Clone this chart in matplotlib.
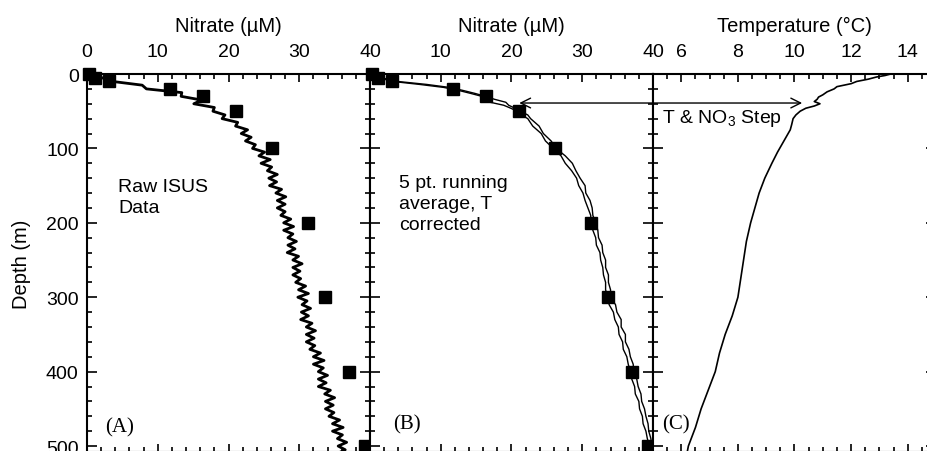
import numpy as np
import matplotlib
matplotlib.use('Agg')
import matplotlib.pyplot as plt
from matplotlib.ticker import MultipleLocator, FuncFormatter

plt.rcParams['font.family'] = ['Liberation Sans', 'DejaVu Sans']
plt.rcParams['mathtext.fontset'] = 'custom'
plt.rcParams['mathtext.rm'] = 'Liberation Sans'
plt.rcParams['mathtext.it'] = 'Liberation Sans'

# --- bottle samples (squares, panels A and B) ---
bottle_depth = [0, 5, 10, 20, 30, 50, 100, 200, 300, 400, 500]
bottle_no3 = [0.3, 1.2, 3.1, 11.8, 16.4, 21.0, 26.1, 31.3, 33.6, 37.0, 39.3]

# --- raw ISUS nitrate (panel A), 5 m bins from 0 to 510 m ---
raw_depth = np.arange(0, 515, 5)
raw_no3 = [0.3, 2.1, 3.6, 7.8, 8.4, 13.4, 13.3, 16.2, 15.1, 18.0,
           17.8, 19.5, 19.1, 21.3, 21.0, 22.7, 21.8, 23.2, 22.4, 23.8,
           23.4, 25.1, 24.3, 25.9, 24.6, 26.1, 25.5, 26.9, 25.7, 26.8,
           25.8, 27.5, 26.7, 28.1, 26.9, 28.0, 26.9, 28.0, 27.4, 28.8,
           27.8, 29.2, 27.8, 29.1, 28.4, 29.6, 28.4, 29.4, 28.3, 29.9,
           29.1, 30.4, 29.1, 30.1, 29.1, 30.2, 29.5, 30.9, 29.9, 31.3,
           29.8, 31.1, 30.4, 31.6, 30.3, 31.3, 30.2, 31.8, 31.0, 32.3,
           31.0, 32.1, 31.0, 32.2, 31.5, 33.0, 32.0, 33.5, 32.0, 33.4,
           32.7, 34.0, 32.7, 33.8, 32.7, 34.4, 33.6, 35.0, 33.7, 34.8,
           33.7, 34.9, 34.2, 35.7, 34.7, 36.2, 34.7, 36.1, 35.4, 36.7,
           35.5, 36.5, 35.4]

# --- 5 pt running average, T corrected (panel B), two casts ---
avg_depth = [0, 3, 6, 10, 14, 18, 22, 26, 30, 34, 38, 42, 46, 50, 55, 60,
             70, 80, 90, 100, 110, 120, 130, 140, 150, 160, 170, 180, 190, 200,
             210, 220, 230, 240, 250, 260, 270, 280, 290, 300, 310, 320, 330, 340,
             350, 360, 370, 380, 390, 400, 410, 420, 430, 440, 450, 460, 470, 480,
             490, 500, 510]
avg_no3_1 = [0.3, 0.8, 1.6, 3.2, 7.0, 10.4, 12.5, 14.2, 15.8, 16.6,
             17.0, 18.9, 19.9, 20.8, 21.4, 22.3, 23.0, 24.2, 24.8, 25.9,
             27.0, 27.6, 28.5, 29.2, 29.5, 30.1, 30.4, 30.8, 31.2, 31.2,
             31.5, 31.9, 32.0, 32.5, 32.6, 32.9, 33.0, 33.3, 33.3, 33.6,
             33.8, 34.4, 34.6, 35.1, 35.2, 35.7, 35.8, 36.3, 36.5, 36.8,
             37.0, 37.4, 37.5, 38.0, 38.1, 38.5, 38.6, 39.0, 39.2, 39.5, 39.6]
avg_no3_2 = [0.3, 1.1, 2.1, 3.9, 8.0, 11.2, 13.1, 14.8, 16.3, 17.6,
             19.2, 19.6, 20.5, 21.2, 22.3, 22.7, 23.9, 24.5, 25.6, 26.3,
             27.6, 28.6, 29.1, 29.7, 30.4, 30.5, 31.1, 31.4, 31.5, 31.9,
             32.2, 32.3, 32.8, 32.9, 33.3, 33.3, 33.7, 33.7, 34.0, 34.0,
             34.7, 34.9, 35.5, 35.5, 36.1, 36.1, 36.6, 36.8, 37.2, 37.3,
             37.7, 37.9, 38.3, 38.4, 38.8, 39.0, 39.3, 39.4, 39.7, 39.8, 40.0]

# --- temperature (panel C) ---
temp_depth = [0, 2, 4, 7, 10, 13, 17, 20, 24, 28, 31, 34, 37, 40, 43, 46, 50,
              55, 60, 68, 75, 85, 95, 105, 120, 140, 160, 180, 200, 225, 250,
              275, 300, 325, 350, 375, 400, 425, 450, 475, 500, 510]
temp_c = [13.4, 13.2, 12.9, 12.6, 12.2, 12.0, 11.5, 11.4, 11.15, 11.0, 10.85,
          10.8, 10.7, 10.9, 10.7, 10.4, 10.2, 10.05, 9.95, 9.9, 9.85, 9.7, 9.55,
          9.4, 9.2, 8.95, 8.75, 8.6, 8.45, 8.3, 8.2, 8.1, 8.0, 7.8, 7.55, 7.35,
          7.2, 6.95, 6.7, 6.5, 6.25, 6.2]

W, H = 928, 452
fig = plt.figure(figsize=(W / 100, H / 100), dpi=100)

def make_ax(x0, x1):
    # pixel box -> figure fraction; top at 75 px, bottom just off the image
    return fig.add_axes([x0 / W, (H - 453) / H, (x1 - x0) / W, (453 - 75) / H])

axA = make_ax(87, 370)
axB = make_ax(370, 653)
axC = make_ax(653, 936)

for ax in (axA, axB, axC):
    ax.set_ylim(508, 0)
    ax.yaxis.set_major_locator(MultipleLocator(100))
    ax.yaxis.set_minor_locator(MultipleLocator(20))
    ax.xaxis.tick_top()
    ax.xaxis.set_label_position('top')
    ax.tick_params(axis='both', which='both', direction='in', top=True, bottom=True,
                   left=True, right=True, labeltop=True, labelbottom=False,
                   labelleft=False, labelright=False, width=1.2, labelsize=14)
    ax.tick_params(axis='x', which='major', length=6, pad=10)
    ax.tick_params(axis='x', which='minor', length=3.5)
    ax.tick_params(axis='y', which='major', length=7)
    ax.tick_params(axis='y', which='minor', length=3.8)
    for s in ax.spines.values():
        s.set_linewidth(1.5)

for ax in (axA, axB):
    ax.set_xlim(0, 40)
    ax.xaxis.set_major_locator(MultipleLocator(10))
    ax.xaxis.set_minor_locator(MultipleLocator(2))
    ax.set_xlabel('Nitrate (µM)', fontsize=14.5, labelpad=9)
    ax.plot(bottle_no3, bottle_depth, 's', color='black', ms=8, zorder=4, clip_on=False)

axB.xaxis.set_major_formatter(FuncFormatter(lambda v, p: '' if v == 0 else f'{v:g}'))

axA.tick_params(axis='y', labelleft=True, pad=6)
axA.set_ylabel('Depth (m)', fontsize=14.5, labelpad=11)

axC.set_xlim(5, 15)
axC.xaxis.set_major_locator(MultipleLocator(2))
axC.xaxis.set_minor_locator(MultipleLocator(0.5))
axC.set_xlabel('Temperature (°C)', fontsize=14.5, labelpad=9)

# panel A: raw data
axA.plot(raw_no3, raw_depth, color='black', lw=2.0, zorder=3)
axA.text(4.4, 165, 'Raw ISUS\nData', fontsize=14, va='center', ha='left', linespacing=1.35)
axA.text(2.5, 474, '(A)', fontsize=15, family='Liberation Serif', va='center')

# panel B: running average, both casts
axB.plot(avg_no3_1, avg_depth, color='black', lw=1.0, zorder=3)
axB.plot(avg_no3_2, avg_depth, color='black', lw=1.0, zorder=3)
axB.text(4.1, 174, '5 pt. running\naverage, T\ncorrected', fontsize=14, va='center',
         ha='left', linespacing=1.3)
axB.text(3.25, 470, '(B)', fontsize=15, family='Liberation Serif', va='center')

# panel C: temperature
axC.plot(temp_c, temp_depth, color='black', lw=1.2, zorder=3)
axC.text(5.32, 470, '(C)', fontsize=15, family='Liberation Serif', va='center')
axC.text(5.32, 58, 'T & NO$_3$ Step', fontsize=14, va='center', ha='left')

# step arrow from B's nitrate profile to C's temperature profile
axC.annotate('', xy=(21.1, 39), xycoords=axB.transData,
             xytext=(10.27, 39), textcoords=axC.transData,
             arrowprops=dict(arrowstyle='<->,head_length=0.5,head_width=0.25',
                             lw=1.0, color='black', shrinkA=0, shrinkB=0,
                             mutation_scale=14),
             annotation_clip=False)

fig.savefig('out.png', dpi=100)
